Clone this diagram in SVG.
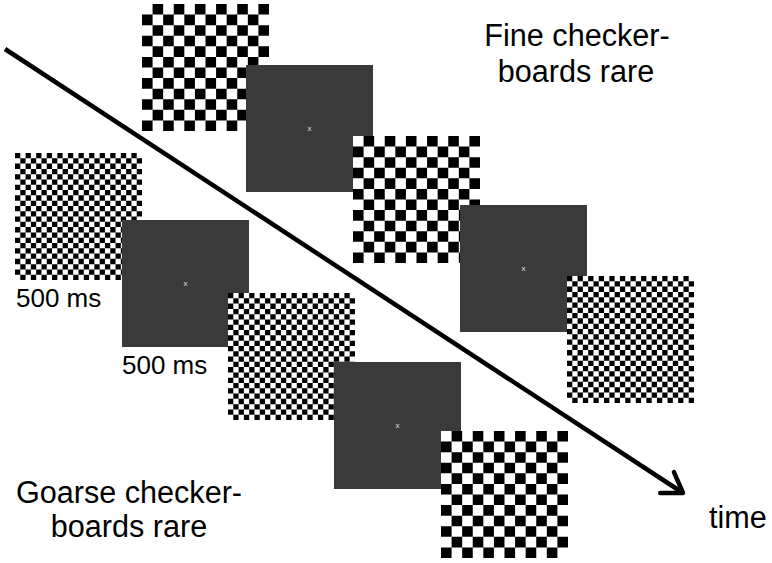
<svg xmlns="http://www.w3.org/2000/svg" xmlns:xlink="http://www.w3.org/1999/xlink" width="772" height="563" viewBox="0 0 772 563">
<style>
.lbl{font-family:"Liberation Sans",Helvetica,Arial,sans-serif;fill:#000}
.big{font-size:30.6px}
.ms{font-size:26px}
.fix{font-family:"Liberation Sans",Arial,sans-serif;font-size:8px;fill:#e0e0e0;text-anchor:middle}
.blank{fill:#3a3a3a}
.chk{fill:none;stroke:#000;stroke-width:1;stroke-dasharray:1 1}
.arrow{fill:none;stroke:#000;stroke-width:4.5}
</style>
<defs>
<g id="coarseBoard">
<rect x="0" y="0" width="12" height="12" fill="#fff"/>
<path class="chk" d="M1 .5H13M0 1.5H12M1 2.5H13M0 3.5H12M1 4.5H13M0 5.5H12M1 6.5H13M0 7.5H12M1 8.5H13M0 9.5H12M1 10.5H13M0 11.5H12"/>
</g>
<g id="fineBoard">
<rect x="0" y="0" width="24" height="24" fill="#fff"/>
<path class="chk" d="M0 .5H24M1 1.5H25M0 2.5H24M1 3.5H25M0 4.5H24M1 5.5H25M0 6.5H24M1 7.5H25M0 8.5H24M1 9.5H25M0 10.5H24M1 11.5H25M0 12.5H24M1 13.5H25M0 14.5H24M1 15.5H25M0 16.5H24M1 17.5H25M0 18.5H24M1 19.5H25M0 20.5H24M1 21.5H25M0 22.5H24M1 23.5H25"/>
</g>
<marker id="head" markerUnits="userSpaceOnUse" markerWidth="40" markerHeight="40" refX="0" refY="0" viewBox="-25 -20 30 40" orient="auto" overflow="visible">
<path d="M-19 -12.5L0 0L-19 12.5" fill="none" stroke="#000" stroke-width="4.5" stroke-linejoin="round" stroke-linecap="round"/>
</marker>
</defs>
<g id="connectors">
<line class="arrow" x1="5" y1="49" x2="683" y2="493" marker-end="url(#head)"/>
</g>
<g id="seqTop">
<g id="stimA"><use xlink:href="#coarseBoard" transform="translate(142 4) scale(10.58333)"/></g>
<g id="blank1"><rect class="blank" x="246" y="65" width="127" height="127"/><text class="fix" x="309.5" y="131">x</text></g>
<g id="stimB"><use xlink:href="#coarseBoard" transform="translate(353 136) scale(10.58333)"/></g>
<g id="blank2"><rect class="blank" x="460" y="205" width="127" height="127"/><text class="fix" x="523.5" y="271">x</text></g>
<g id="stimC"><use xlink:href="#fineBoard" transform="translate(567 276) scale(5.291667)"/></g>
</g>
<g id="seqBottom">
<g id="stimD"><use xlink:href="#fineBoard" transform="translate(15 153) scale(5.291667)"/></g>
<g id="blank3"><rect class="blank" x="122" y="220" width="127" height="127"/><text class="fix" x="185.5" y="286">x</text></g>
<g id="stimE"><use xlink:href="#fineBoard" transform="translate(228 293) scale(5.291667)"/></g>
<g id="blank4"><rect class="blank" x="334" y="362" width="127" height="127"/><text class="fix" x="397.5" y="428">x</text></g>
<g id="stimF"><use xlink:href="#coarseBoard" transform="translate(441 431) scale(10.58333)"/></g>
</g>
<g id="labels">
<text class="lbl big" x="577" y="46" text-anchor="middle">Fine checker-</text>
<text class="lbl big" x="576" y="82" text-anchor="middle">boards rare</text>
<text class="lbl big" x="129" y="503" text-anchor="middle">Goarse checker-</text>
<text class="lbl big" x="129" y="537" text-anchor="middle">boards rare</text>
<text class="lbl ms" x="16" y="307">500 ms</text>
<text class="lbl ms" x="122" y="374">500 ms</text>
<text class="lbl big" x="709" y="528">time</text>
</g>
</svg>
